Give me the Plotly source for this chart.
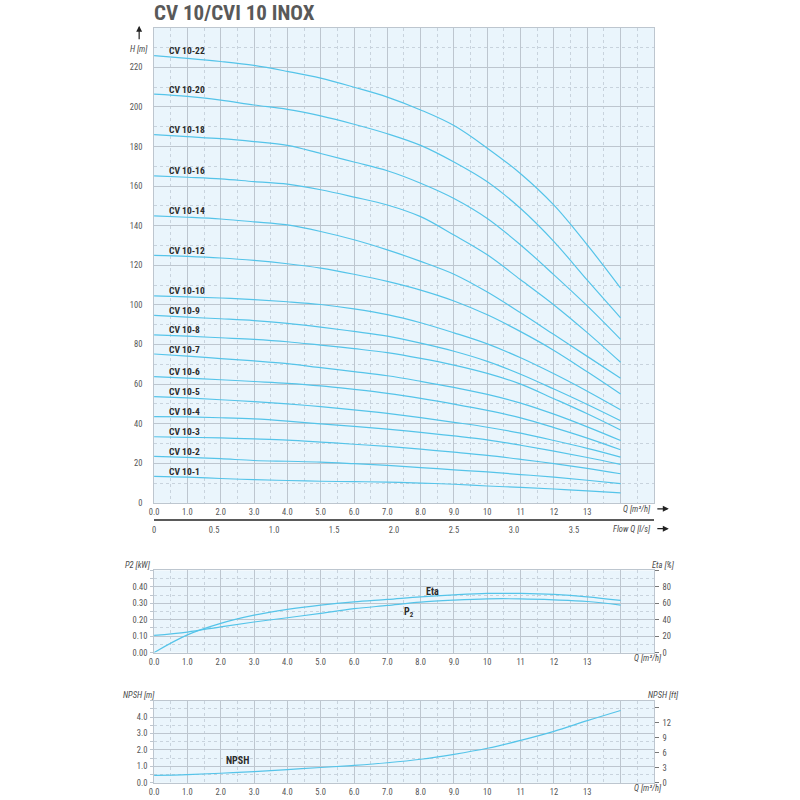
import plotly.graph_objects as go

# flow points (m3/h) where the curves were read
q = [0, 1, 2, 3, 4, 5, 6, 7, 8, 9, 10, 11, 12, 13, 14]

# head curves H [m] per pump model
h_10_1 = [13.4, 13.0, 12.3, 11.7, 11.3, 10.9, 10.7, 10.5, 10.0, 9.4, 8.5, 7.8, 7.0, 6.0, 5.0]
h_10_2 = [23.5, 23.0, 22.3, 21.4, 21.0, 20.6, 19.8, 18.9, 17.8, 16.7, 15.6, 14.3, 13.0, 11.4, 9.7]
h_10_3 = [33.4, 33.1, 32.8, 32.3, 31.7, 30.7, 29.6, 28.5, 27.1, 25.6, 24.0, 22.0, 19.8, 17.4, 14.7]
h_10_4 = [43.6, 43.4, 43.0, 42.4, 41.3, 39.9, 38.6, 37.2, 35.6, 33.8, 31.8, 29.1, 26.1, 22.9, 19.4]
h_10_5 = [53.7, 53.0, 52.1, 51.1, 50.0, 48.6, 47.0, 45.2, 43.1, 40.7, 38.2, 35.2, 31.5, 27.5, 23.1]
h_10_6 = [63.8, 63.0, 62.2, 61.3, 60.4, 59.1, 57.3, 55.3, 52.8, 49.9, 46.7, 42.9, 38.0, 32.7, 26.8]
h_10_7 = [75.2, 74.1, 72.9, 71.7, 70.3, 68.3, 66.3, 64.2, 61.4, 58.3, 54.8, 50.4, 44.8, 38.4, 31.5]
h_10_8 = [84.9, 84.2, 83.4, 82.6, 81.4, 79.7, 77.9, 75.9, 73.0, 69.6, 65.4, 60.0, 52.6, 45.0, 36.8]
h_10_9 = [94.7, 93.8, 93.0, 92.1, 90.7, 88.8, 86.6, 84.2, 80.7, 76.6, 71.5, 65.0, 57.5, 49.7, 41.5]
h_10_10 = [104.6, 104.1, 103.5, 102.7, 101.6, 100.2, 98.0, 95.1, 91.0, 85.9, 80.3, 73.3, 65.2, 56.4, 47.0]
h_10_12 = [125.0, 124.5, 123.7, 122.5, 120.8, 118.6, 115.5, 111.9, 107.5, 102.0, 95.0, 86.5, 77.0, 66.2, 55.0]
h_10_14 = [145.0, 144.3, 143.4, 142.0, 140.4, 137.1, 132.9, 127.8, 122.0, 115.5, 106.5, 96.0, 85.0, 74.0, 63.0]
h_10_16 = [165.2, 164.5, 163.7, 162.3, 161.0, 158.2, 154.5, 150.5, 144.6, 135.3, 125.3, 112.7, 100.0, 86.0, 71.0]
h_10_18 = [186.0, 185.0, 184.0, 182.5, 180.6, 176.5, 172.2, 167.8, 161.5, 153.8, 143.7, 130.3, 115.2, 99.5, 82.6]
h_10_20 = [206.5, 205.4, 203.5, 201.0, 198.8, 195.5, 191.3, 186.5, 180.6, 172.2, 162.2, 148.7, 132.0, 112.5, 93.5]
h_10_22 = [226.0, 224.6, 223.0, 221.0, 218.0, 214.6, 210.0, 205.0, 198.5, 190.6, 179.2, 166.3, 150.4, 130.3, 108.5]

models = ["CV 10-1", "CV 10-2", "CV 10-3", "CV 10-4", "CV 10-5", "CV 10-6", "CV 10-7", "CV 10-8",
          "CV 10-9", "CV 10-10", "CV 10-12", "CV 10-14", "CV 10-16", "CV 10-18", "CV 10-20", "CV 10-22"]
heads = [h_10_1, h_10_2, h_10_3, h_10_4, h_10_5, h_10_6, h_10_7, h_10_8,
         h_10_9, h_10_10, h_10_12, h_10_14, h_10_16, h_10_18, h_10_20, h_10_22]

# power and efficiency
p2_kw = [0.105, 0.125, 0.157, 0.186, 0.212, 0.239, 0.267, 0.287, 0.307, 0.319, 0.327, 0.327, 0.321, 0.311, 0.289]
eta_pct = [0, 21.5, 35.5, 45.5, 52.6, 57.8, 61.8, 64.7, 67.9, 70.3, 72.0, 72.0, 70.8, 67.9, 63.5]

# NPSH
npsh_m = [0.45, 0.50, 0.58, 0.68, 0.80, 0.93, 1.06, 1.22, 1.43, 1.73, 2.10, 2.58, 3.13, 3.78, 4.40]

# tick values / labels
q_ticks = [0, 1, 2, 3, 4, 5, 6, 7, 8, 9, 10, 11, 12, 13, 14, 15]
q_labels = ["0.0", "1.0", "2.0", "3.0", "4.0", "5.0", "6.0", "7.0", "8.0", "9.0", "10", "11", "12", "13", "", ""]
ls_ticks = [0, 0.5, 1.0, 1.5, 2.0, 2.5, 3.0, 3.5]
ls_labels = ["0", "0.5", "1.0", "1.5", "2.0", "2.5", "3.0", "3.5"]
h_ticks = [0, 20, 40, 60, 80, 100, 120, 140, 160, 180, 200, 220, 240]
h_labels = ["0", "20", "40", "60", "80", "100", "120", "140", "160", "180", "200", "220", ""]
p2_ticks = [0, 0.1, 0.2, 0.3, 0.4, 0.5]
p2_labels = ["0.00", "0.10", "0.20", "0.30", "0.40", ""]
eta_ticks = [0, 20, 40, 60, 80, 100]
eta_labels = ["0", "20", "40", "60", "80", ""]
npsh_ticks = [0, 1, 2, 3, 4, 5]
npsh_labels = ["0.0", "1.0", "2.0", "3.0", "4.0", ""]
ft_ticks = [0, 3, 6, 9, 12, 15]
ft_labels = ["0", "3", "6", "9", "12", ""]

M3H_PER_LS = 3.6
FT_PER_M = 3.28084

# styles
curve_col = "#55C4E9"
major_col = "#BDC6CF"
minor_col = "#C8D3DD"
txt_col = "#4a4a4a"
cond = "Liberation Sans Narrow, Arial Narrow, Roboto Condensed, Roboto, sans-serif"
tick_font = dict(family=cond, size=8.5, color="#555555")

SIZE = 800


def px_x(p):
    return p / SIZE


def px_y(p):
    return 1 - p / SIZE


xdom = [px_x(150), px_x(653)]

fig = go.Figure()

# head curves
for name, h in zip(models, heads):
    fig.add_trace(go.Scatter(x=q, y=h, mode="lines", line=dict(color=curve_col, width=1.2, shape="spline"),
                             xaxis="x", yaxis="y", hoverinfo="skip", name=name))
    fig.add_annotation(x=0.38, y=h[0] + 2.5, xref="x", yref="y", text=name, showarrow=False,
                       xanchor="left", yanchor="middle",
                       font=dict(family=cond, size=9.5, color="#2b2b2b", weight="bold"))

# helper trace so the l/s axis gets drawn
fig.add_trace(go.Scatter(x=ls_ticks, y=[None] * len(ls_ticks), xaxis="x2", yaxis="y",
                         mode="lines", hoverinfo="skip"))

# P2 and Eta
fig.add_trace(go.Scatter(x=q, y=p2_kw, mode="lines", line=dict(color=curve_col, width=1.2, shape="spline"),
                         xaxis="x3", yaxis="y3", hoverinfo="skip"))
fig.add_trace(go.Scatter(x=q, y=eta_pct, mode="lines", line=dict(color=curve_col, width=1.2, shape="spline"),
                         xaxis="x3", yaxis="y4", hoverinfo="skip"))

# NPSH (m) and ft axis helper
fig.add_trace(go.Scatter(x=q, y=npsh_m, mode="lines", line=dict(color=curve_col, width=1.2, shape="spline"),
                         xaxis="x4", yaxis="y5", hoverinfo="skip"))
fig.add_trace(go.Scatter(x=q, y=[v * FT_PER_M for v in npsh_m], mode="lines", line=dict(width=0),
                         xaxis="x4", yaxis="y6", hoverinfo="skip", opacity=0))

grid_common = dict(showgrid=True, gridcolor=major_col, gridwidth=1, zeroline=False,
                   showline=True, linecolor=major_col, linewidth=1, mirror=True,
                   tickfont=tick_font, ticks="")


def qaxis(anchor):
    return dict(domain=xdom, range=[0, 15], anchor=anchor, tickmode="array",
                tickvals=q_ticks, ticktext=q_labels, ticklabelstandoff=1,
                minor=dict(tickmode="linear", tick0=0, dtick=0.5, showgrid=True,
                           gridcolor=minor_col, griddash="dot", gridwidth=1),
                **grid_common)


fig.update_layout(
    width=SIZE, height=SIZE,
    margin=dict(l=0, r=0, t=0, b=0),
    paper_bgcolor="white", plot_bgcolor="#EAF5FC",
    showlegend=False,
    xaxis=qaxis("y"),
    yaxis=dict(domain=[px_y(506), px_y(28)], range=[0, 240], anchor="x", tickmode="array",
               tickvals=h_ticks, ticktext=h_labels, ticklabelstandoff=9,
               minor=dict(tickmode="linear", tick0=0, dtick=10, showgrid=True,
                          gridcolor=minor_col, griddash="dot", gridwidth=1),
               **grid_common),
    xaxis2=dict(domain=xdom, range=[0, 15 / M3H_PER_LS], anchor="free", position=px_y(523),
                overlaying="x", side="bottom", showline=True, linecolor="#5a5a5a", linewidth=2,
                showgrid=False, zeroline=False, tickmode="array", tickvals=ls_ticks, ticktext=ls_labels,
                ticks="", tickfont=tick_font, ticklabelstandoff=2),
    xaxis3=qaxis("y3"),
    yaxis3=dict(domain=[px_y(656.7), px_y(574)], range=[0, 0.5], anchor="x3", tickmode="array",
                tickvals=p2_ticks, ticktext=p2_labels, ticklabelstandoff=4,
                minor=dict(tickmode="linear", tick0=0, dtick=0.05, showgrid=True, ticks="outside",
                           ticklen=3, tickcolor=major_col,
                           gridcolor=minor_col, griddash="dot", gridwidth=1),
                **grid_common),
    yaxis4=dict(range=[0, 100], anchor="x3", overlaying="y3", side="right", tickmode="array",
                tickvals=eta_ticks, ticktext=eta_labels, showgrid=False, zeroline=False,
                ticks="outside", ticklen=4, tickcolor="#777777", tickfont=tick_font, ticklabelstandoff=2),
    xaxis4=qaxis("y5"),
    yaxis5=dict(domain=[px_y(787.7), px_y(705)], range=[0, 5], anchor="x4", tickmode="array",
                tickvals=npsh_ticks, ticktext=npsh_labels, ticklabelstandoff=4,
                minor=dict(tickmode="linear", tick0=0, dtick=0.5, showgrid=True, ticks="outside",
                           ticklen=3, tickcolor=major_col,
                           gridcolor=minor_col, griddash="dot", gridwidth=1),
                **grid_common),
    yaxis6=dict(range=[0, 5 * FT_PER_M], anchor="x4", overlaying="y5", side="right", tickmode="array",
                tickvals=ft_ticks, ticktext=ft_labels, showgrid=False, zeroline=False,
                ticks="outside", ticklen=4, tickcolor="#777777", tickfont=tick_font, ticklabelstandoff=2),
)

lab_font = dict(family=cond, size=8.5, color=txt_col, style="italic")
bold_font = dict(family=cond, size=10, color="#2b2b2b", weight="bold")

# title
fig.add_annotation(x=px_x(148), y=px_y(13), xref="paper", yref="paper", text="CV 10/CVI 10 INOX",
                   showarrow=False, xanchor="left", yanchor="middle",
                   font=dict(family=cond, size=21, color="#595959", weight="bold"))

# axis titles
paper_texts = [
    ("H [m]", 135, 49, "center"),
    ("Q [m³/h]", 652, 512, "right"),
    ("Flow Q [l/s]", 652, 532, "right"),
    ("P2 [kW]", 134, 569, "center"),
    ("Eta [%]", 663, 569, "center"),
    ("Q [m³/h]", 647, 662, "center"),
    ("NPSH [m]", 135, 699, "center"),
    ("NPSH [ft]", 663, 699, "center"),
    ("Q [m³/h]", 647, 793, "center"),
]
for t, px, py, anc in paper_texts:
    fig.add_annotation(x=px_x(px), y=px_y(py), xref="paper", yref="paper", text=t, showarrow=False,
                       xanchor=anc, yanchor="middle", font=lab_font)

# arrows: head position (px) and tail offset (px)
arrows = [(135, 26, 0, 15), (668, 512, -13, 0), (668, 532, -13, 0)]
for hx, hy, dx, dy in arrows:
    fig.add_annotation(x=px_x(hx), y=px_y(hy), ax=dx, ay=dy, xref="paper", yref="paper",
                       axref="pixel", ayref="pixel", text="", showarrow=True, arrowhead=2,
                       arrowsize=1, arrowwidth=1.2, arrowcolor="#222222")

# curve names in lower panels
fig.add_annotation(x=8.35, y=0.37, xref="x3", yref="y3", text="Eta", showarrow=False, font=bold_font)
fig.add_annotation(x=7.65, y=0.245, xref="x3", yref="y3", text="P<sub>2</sub>", showarrow=False, font=bold_font)
fig.add_annotation(x=2.5, y=1.35, xref="x4", yref="y5", text="NPSH", showarrow=False, font=bold_font)

# drop the default page margin so the 800x800 figure sits at the window origin
fig.write_html("out.html", config={"displayModeBar": False},
               post_script="document.body.style.margin='0px';")
